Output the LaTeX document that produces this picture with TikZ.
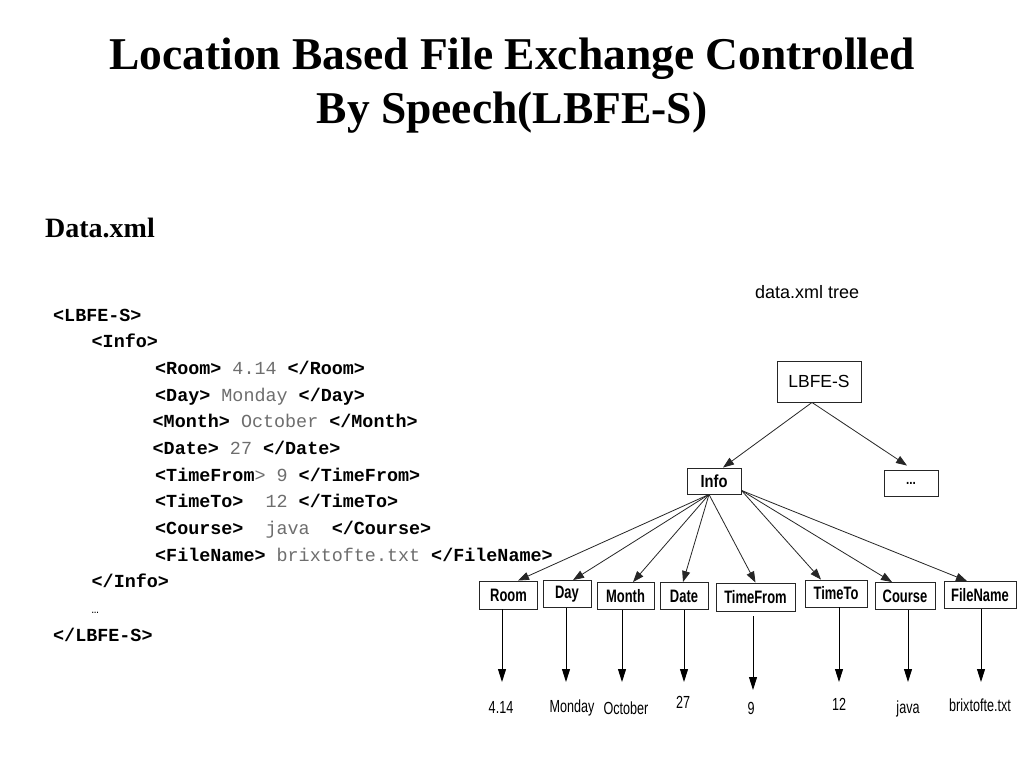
\documentclass[tikz,border=0pt]{standalone}
\usepackage{fontspec}
\setmainfont{Liberation Serif}
\newfontfamily\monofont{Liberation Mono}
\newfontfamily\arialfont{Liberation Sans}
\newfontfamily\narrowfont[FakeStretch=0.72]{Liberation Sans}
\newfontfamily\infofont[FakeStretch=0.84]{Liberation Sans}
\usetikzlibrary{arrows.meta}
\definecolor{valgray}{HTML}{6E6E6E}
\begin{document}
\begin{tikzpicture}[x=1pt,y=-1pt,
  title/.style={anchor=base,inner sep=0,font=\fontsize{45.5}{54}\selectfont\bfseries},
  xmlline/.style={anchor=base west,inner sep=0,font=\monofont\fontsize{18.4}{20}\selectfont},
  treebox/.style={draw=black!85,line width=0.9pt,inner sep=0,font=\narrowfont\bfseries\fontsize{18}{20}\selectfont},
  vallabel/.style={anchor=base,inner sep=0,font=\narrowfont\fontsize{17.5}{20}\selectfont},
  edge/.style={draw=black!85,line width=0.8pt,-{Triangle[length=11pt,width=8pt]}},
  down/.style={draw=black,line width=0.9pt,-{Triangle[length=13pt,width=8pt]}}
]
\useasboundingbox (0,0) rectangle (1024,768);
\fill[white] (0,0) rectangle (1024,768);

% Title
\node[title] (t1) at (512,69) {Location Based File Exchange Controlled};
\node[title] (t2) at (512,123) {By Speech(LBFE-S)};

\node[anchor=base west,inner sep=0,font=\fontsize{28}{32}\selectfont\bfseries] (dx) at (45,237) {Data.xml};
\node[anchor=base west,inner sep=0,font=\arialfont\fontsize{18}{21}\selectfont] (dt) at (755,298) {data.xml tree};

% XML listing
\newcommand{\tg}[1]{\textbf{#1}}
\newcommand{\vl}[1]{\textcolor{valgray}{#1}}
\node[xmlline] (x1) at (53,321) {\tg{<LBFE-S>}};
\node[xmlline] (x2) at (91.5,347.7) {\tg{<Info>}};
\node[xmlline] (x3) at (155,374.3) {\tg{<Room>} \vl{4.14} \tg{</Room>}};
\node[xmlline] (x4) at (155,401) {\tg{<Day>} \vl{Monday} \tg{</Day>}};
\node[xmlline] (x5) at (152.5,427.7) {\tg{<Month>} \vl{October} \tg{</Month>}};
\node[xmlline] (x6) at (152.5,454.3) {\tg{<Date>} \vl{27} \tg{</Date>}};
\node[xmlline] (x7) at (155,481) {\tg{<TimeFrom}\vl{>} \vl{9} \tg{</TimeFrom>}};
\node[xmlline] (x8) at (155,507.7) {\tg{<TimeTo>}\ \ \vl{12} \tg{</TimeTo>}};
\node[xmlline] (x9) at (155,534.3) {\tg{<Course>}\ \ \vl{java}\ \ \tg{</Course>}};
\node[xmlline] (x10) at (155,561) {\tg{<FileName>} \vl{brixtofte.txt} \tg{</FileName>}};
\node[xmlline] (x11) at (91.5,587.7) {\tg{</Info>}};
\node[xmlline,font=\monofont\fontsize{12}{14}\selectfont] (x12) at (91.5,613) {…};
\node[xmlline] (x13) at (53,641) {\tg{</LBFE-S>}};

% Tree
\node[treebox,minimum width=84pt,minimum height=41pt,font=\arialfont\fontsize{17.5}{20}\selectfont] (lbfe) at (819,381.5) {LBFE-S};
\node[treebox,minimum width=54pt,minimum height=26pt,font=\infofont\bfseries\fontsize{17.5}{20}\selectfont] (info) at (714,481) {Info};
\node[treebox,minimum width=54pt,minimum height=26pt,font=\infofont\bfseries\fontsize{14}{16}\selectfont] (dots) at (911,483) {...};

\node[treebox,minimum width=58pt,minimum height=28pt] (room) at (508.5,595) {Room};
\node[treebox,minimum width=48pt,minimum height=27pt] (day) at (567,594) {\raisebox{2pt}{Day}};
\node[treebox,minimum width=57pt,minimum height=27pt] (month) at (625.5,596) {Month};
\node[treebox,minimum width=48pt,minimum height=27pt] (date) at (684,596) {Date};
\node[treebox,minimum width=79pt,minimum height=28pt] (tfrom) at (755.5,597) {TimeFrom};
\node[treebox,minimum width=62pt,minimum height=27pt] (tto) at (836,593.5) {\raisebox{1.5pt}{TimeTo}};
\node[treebox,minimum width=60pt,minimum height=27pt] (course) at (905,596) {Course};
\node[treebox,minimum width=72pt,minimum height=27pt] (fname) at (980,595) {FileName};

\draw[edge] ([xshift=-7pt]lbfe.south) -- ([xshift=9pt]info.north);
\draw[edge] ([xshift=-7pt]lbfe.south) -- ([xshift=-4pt,yshift=4pt]dots.north);

\coordinate (iL) at ([xshift=-5pt]info.south);
\coordinate (iR) at ([yshift=4pt]info.south east);
\draw[edge] (iL) -- ([xshift=9.5pt]room.north);
\draw[edge] (iL) -- ([xshift=6pt]day.north);
\draw[edge] (iL) -- ([xshift=7.5pt]month.north);
\draw[edge] (iL) -- ([xshift=-1pt]date.north);
\draw[edge] (iL) -- ([xshift=0pt]tfrom.north);
\draw[edge] (iR) -- ([xshift=-15pt]tto.north);
\draw[edge] (iR) -- ([xshift=-13pt]course.north);
\draw[edge] (iR) -- ([xshift=-13pt]fname.north);

% values
\node[vallabel] (v1) at (501,713.5) {4.14};
\node[vallabel] (v2) at (572,712) {Monday};
\node[vallabel] (v3) at (626,714) {October};
\node[vallabel] (v4) at (683,708) {27};
\node[vallabel] (v5) at (751,714) {9};
\node[vallabel] (v6) at (839,710) {12};
\node[vallabel] (v7) at (908,713) {java};
\node[vallabel] (v8) at (980,711.5) {brixtofte.txt};

\coordinate (tipA) at (0,682);
\coordinate (tipB) at (0,690);
\draw[down] ([xshift=-6.5pt]room.south) -- ([xshift=-6.5pt]room.south |- tipA);
\draw[down] ([xshift=-1pt]day.south) -- ([xshift=-1pt]day.south |- tipA);
\draw[down] ([xshift=-3.5pt]month.south) -- ([xshift=-3.5pt]month.south |- tipA);
\draw[down] (date.south) -- (date.south |- tipA);
\draw[down] ([xshift=-2.5pt,yshift=-5pt]tfrom.south) -- ([xshift=-2.5pt]tfrom.south |- tipB);
\draw[down] ([xshift=3pt]tto.south) -- ([xshift=3pt]tto.south |- tipA);
\draw[down] ([xshift=3pt]course.south) -- ([xshift=3pt]course.south |- tipA);
\draw[down] ([xshift=1pt]fname.south) -- ([xshift=1pt]fname.south |- tipA);
\end{tikzpicture}
\end{document}
